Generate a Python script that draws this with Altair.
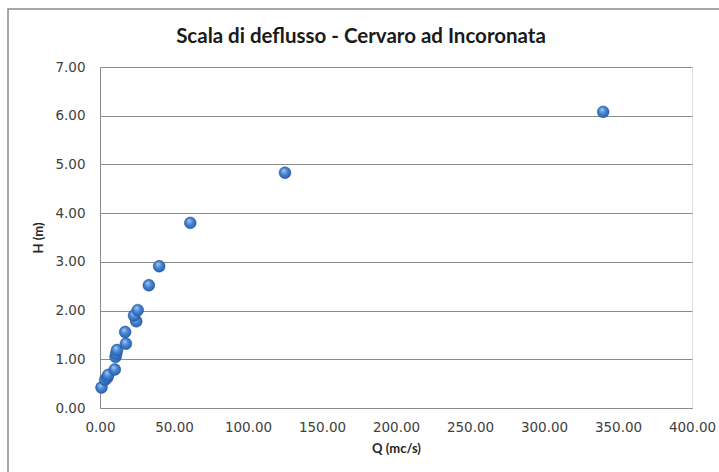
import altair as alt
import pandas as pd

Q = [1.0, 3.5, 5.0, 5.5, 10.0, 10.5, 11.0, 11.5, 17.5, 17.0, 24.5, 23.0, 25.5, 33.0, 40.0, 61.0, 125.0, 340.0]
H = [0.42, 0.58, 0.63, 0.68, 0.79, 1.05, 1.12, 1.19, 1.32, 1.56, 1.78, 1.90, 2.01, 2.52, 2.91, 3.80, 4.83, 6.08]
TITLE = "Scala di deflusso - Cervaro ad Incoronata"

df = pd.DataFrame({"Q": Q, "H": H})

FONT = "Lato"
LFONT = "DejaVu Sans"

grad = alt.RadialGradient(
    gradient="radial",
    x1=0.38, y1=0.3, r1=0.0,
    x2=0.5, y2=0.5, r2=0.6,
    stops=[
        alt.GradientStop(color="#a9cdf5", offset=0.0),
        alt.GradientStop(color="#4a86d4", offset=0.45),
        alt.GradientStop(color="#1f57a8", offset=1.0),
    ],
)

one = pd.DataFrame({"a": [0]})

border = alt.Chart(one).mark_rect(
    fillOpacity=0, stroke="#8c8c8c", strokeWidth=1.5
).encode(
    x=alt.value(-92), x2=alt.value(640),
    y=alt.value(-58), y2=alt.value(420),
)

title = alt.Chart(one).mark_text(
    text=TITLE, font=FONT, fontSize=20.5, fontWeight="bold", color="#1a1a1a",
    align="center", baseline="middle",
).encode(x=alt.value(261), y=alt.value(-30))

pts = alt.Chart(df).mark_circle(size=140, fill=grad, opacity=1, stroke="#1d4f96", strokeWidth=0.5).encode(
    x=alt.X(
        "Q:Q",
        scale=alt.Scale(domain=[0, 400], nice=False),
        axis=alt.Axis(
            title="Q (mc/s)", values=list(range(0, 401, 50)), format=".2f",
            grid=False, ticks=False, domainColor="#8c8c8c", labelFlush=False,
            labelColor="#404040", labelFontSize=13.5, labelFont=LFONT, labelPadding=12,
            titleFont=FONT, titleFontSize=13, titleFontWeight="bold", titleColor="#262626",
            titlePadding=9,
        ),
    ),
    y=alt.Y(
        "H:Q",
        scale=alt.Scale(domain=[0, 7], nice=False),
        axis=alt.Axis(
            title="H (m)", values=list(range(0, 8)), format=".2f",
            grid=True, gridColor="#8c8c8c", gridWidth=1,
            ticks=False, domainColor="#8c8c8c", labelFlush=False,
            labelColor="#404040", labelFontSize=13.5, labelFont=LFONT, labelPadding=15,
            titleFont=FONT, titleFontSize=13, titleFontWeight="bold", titleColor="#262626",
            titlePadding=9,
        ),
    ),
)

chart = alt.layer(border, title, pts).properties(
    width=592,
    height=341,
    autosize=alt.AutoSizeParams(type="none"),
    padding={"left": 100, "top": 67, "right": 27, "bottom": 64},
).configure_view(stroke=None).configure(background="white")

chart.save("out.html", embed_options={"renderer": "svg", "actions": False})
